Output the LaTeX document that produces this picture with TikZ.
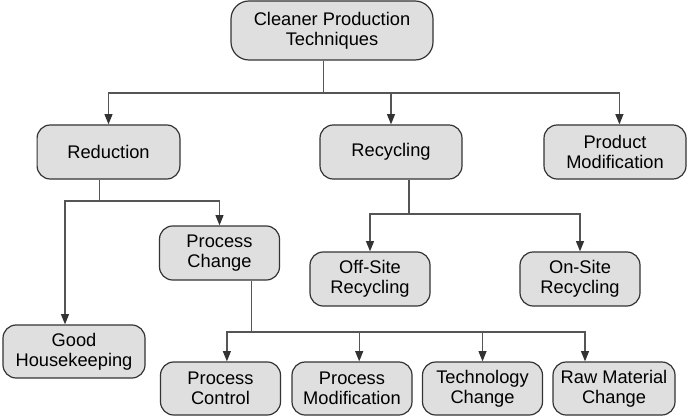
\documentclass[tikz,border=0pt]{standalone}
\usepackage{fontspec}
\setmainfont{Liberation Sans}
\usepackage{xcolor}
\definecolor{cBox} {HTML}{DFDFDF}
\definecolor{cEdge}{HTML}{333333}
\definecolor{cLine}{HTML}{555555}
\usepackage{tikz}
\usetikzlibrary{arrows.meta, positioning, calc}
\tikzset{
  blk/.style  = {rectangle, draw=cEdge, line width=0.85pt, rounded corners=0.33cm,
                 fill=cBox, minimum width=#1, minimum height=1.35cm,
                 align=center, inner sep=0pt,
                 font=\fontsize{13}{14.4}\selectfont},
  blk/.default = 3.0cm,
  ln/.style   = {draw=cLine, line width=0.95pt},
  arr/.style  = {ln, -{Triangle[length=0.26cm, width=0.2cm, color=cEdge]}},
}

\begin{document}
\begin{tikzpicture}
  \useasboundingbox (0,0) rectangle (17.275,-10.4);

  \node[blk=5.05cm, minimum height=1.475cm, rounded corners=0.45cm]
        (cpt) at (8.3,-0.7625) {Cleaner Production\\Techniques};

  \node[blk=3.57cm] (red)  at (2.7125,-3.8) {Reduction};
  \node[blk=3.55cm] (rec)  at (9.775,-3.8)  {Recycling};
  \node[blk=3.55cm] (prod) at (15.375,-3.8) {Product\\Modification};

  \node[blk] (pchg) at (5.4875,-6.325) {Process\\Change};
  \node[blk=3.55cm, minimum height=1.325cm]
        (good) at (1.85,-8.7875) {Good\\Housekeeping};
  \node[blk] (off) at (9.25,-6.975) {Off-Site\\Recycling};
  \node[blk] (on)  at (14.5,-6.975) {On-Site\\Recycling};

  \node[blk, minimum height=1.325cm] (ctrl) at (5.5125,-9.7125)
        {Process\\Control};
  \node[blk, minimum height=1.325cm] (pmod) at (8.8,-9.7125)
        {Process\\Modification};
  \node[blk, minimum height=1.325cm] (tech) at (12.0625,-9.7125)
        {Technology\\Change};
  \node[blk=3.05cm, minimum height=1.325cm] (raw) at (15.35,-9.7125)
        {Raw Material\\Change};

  %% Branch points
  \coordinate (b1) at (8.0875,-2.325);
  \coordinate (b2) at (2.48,-5.025);
  \coordinate (b3) at (10.225,-5.35);
  \coordinate (b4) at (6.2925,-8.3);

  %% Level one
  \draw[ln]  (cpt.south -| b1) -- (b1);
  \draw[arr] (b1) -| (red.north);
  \draw[arr] (b1) -| ([xshift=0.11cm]prod.north);
  \draw[arr] (b1 -| rec.north) -- (rec.north);

  %% Reduction
  \draw[ln]  (red.south -| b2) -- (b2);
  \draw[arr] (b2) -| ([xshift=-0.225cm]good.north);
  \draw[arr] (b2) -| (pchg.north);

  %% Recycling
  \draw[ln]  (rec.south -| b3) -- (b3);
  \draw[arr] (b3) -| (off.north);
  \draw[arr] (b3) -| (on.north);

  %% Process change
  \draw[ln]  (pchg.south -| b4) -- (b4);
  \draw[arr] (b4) -| ([xshift=0.16cm]ctrl.north);
  \draw[arr] (b4) -| ([xshift=-0.725cm]raw.north);
  \draw[arr] (b4 -| pmod.north) ++(0.18,0) -- ([xshift=0.18cm]pmod.north);
  \draw[arr] (b4 -| tech.north) -- (tech.north);

\end{tikzpicture}
\end{document}
